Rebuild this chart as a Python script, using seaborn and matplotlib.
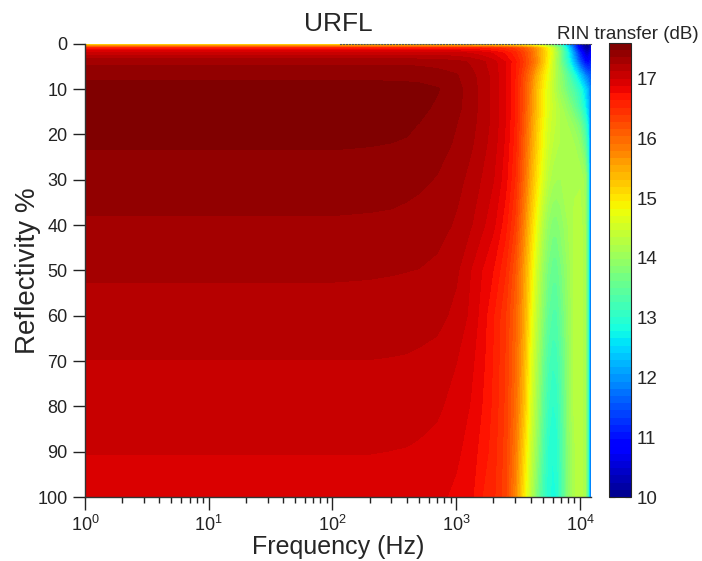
import numpy as np
import pandas as pd
import matplotlib
matplotlib.use("Agg")
import matplotlib.pyplot as plt
import seaborn as sns

# frequency columns (Hz) and reflectivity rows (%)
freq_hz = [1, 100, 200, 300, 400, 500, 700, 1000, 1300, 1600, 2000, 2500, 3000, 3500,
           4000, 4500, 5000, 5500, 6000, 6500, 7000, 8000, 9000, 10000, 11000, 11600,
           12000, 12300]
reflectivity = [0, 1, 2, 4, 7, 10, 14, 18, 22, 30, 40, 50, 60, 70, 80, 90, 100]

# RIN transfer (dB), one list per reflectivity row
rin_r0 = [14.7, 14.7, 14.7, 14.7, 14.7, 14.7, 14.7, 14.7, 14.7, 14.68, 14.65, 14.6, 14.5, 14.4,
          14.3, 14.15, 14.0, 13.8, 13.5, 13.2, 12.85, 12.1, 11.3, 10.5, 10.05, 10.0, 10.2, 10.5]
rin_r1 = [16.7, 16.7, 16.7, 16.7, 16.7, 16.7, 16.7, 16.69, 16.67, 16.64, 16.58, 16.48, 16.35, 16.15,
          15.9, 15.6, 15.25, 14.9, 14.5, 14.05, 13.6, 12.6, 11.6, 10.7, 10.2, 10.1, 10.3, 10.6]
rin_r2 = [17.05, 17.05, 17.05, 17.05, 17.05, 17.05, 17.04, 17.02, 16.98, 16.93, 16.85, 16.72, 16.55, 16.3,
          16.0, 15.65, 15.3, 14.95, 14.6, 14.15, 13.7, 12.8, 11.9, 11.1, 10.5, 10.4, 10.6, 10.8]
rin_r4 = [17.33, 17.33, 17.33, 17.33, 17.33, 17.325, 17.31, 17.28, 17.22, 17.15, 17.04, 16.87, 16.66, 16.38,
          16.05, 15.7, 15.3, 14.9, 14.5, 14.1, 13.7, 12.95, 12.2, 11.5, 11.0, 10.9, 11.0, 11.1]
rin_r7 = [17.44, 17.44, 17.44, 17.44, 17.435, 17.43, 17.41, 17.37, 17.28, 17.19, 17.07, 16.88, 16.63, 16.25,
          15.85, 15.4, 15.05, 14.75, 14.45, 14.15, 13.9, 13.4, 12.9, 12.4, 11.9, 11.7, 11.6, 11.6]
rin_r10 = [17.54, 17.54, 17.54, 17.535, 17.53, 17.52, 17.49, 17.4, 17.3, 17.2, 17.08, 16.88, 16.62, 16.2,
           15.75, 15.3, 14.95, 14.65, 14.4, 14.15, 13.95, 13.6, 13.3, 12.95, 12.5, 12.2, 11.9, 11.8]
rin_r14 = [17.57, 17.57, 17.565, 17.56, 17.55, 17.51, 17.46, 17.39, 17.3, 17.2, 17.08, 16.88, 16.62, 16.2,
           15.72, 15.3, 14.95, 14.65, 14.45, 14.3, 14.15, 13.9, 13.6, 13.25, 12.75, 12.4, 11.9, 11.8]
rin_r18 = [17.54, 17.54, 17.53, 17.515, 17.495, 17.475, 17.43, 17.36, 17.28, 17.19, 17.07, 16.87, 16.6, 16.15,
           15.65, 15.2, 14.85, 14.55, 14.4, 14.3, 14.2, 14.1, 13.95, 13.7, 13.2, 12.7, 11.9, 11.8]
rin_r22 = [17.49, 17.49, 17.485, 17.478, 17.47, 17.455, 17.41, 17.34, 17.26, 17.17, 17.05, 16.85, 16.57, 16.1,
           15.6, 15.15, 14.8, 14.5, 14.35, 14.25, 14.2, 14.15, 14.1, 13.95, 13.5, 12.9, 11.9, 11.8]
rin_r30 = [17.43, 17.43, 17.42, 17.41, 17.395, 17.38, 17.35, 17.28, 17.2, 17.11, 17.0, 16.8, 16.5, 16.0,
           15.45, 15.0, 14.6, 14.3, 14.15, 14.1, 14.1, 14.15, 14.2, 14.2, 14.05, 13.4, 11.9, 11.8]
rin_r40 = [17.34, 17.34, 17.335, 17.33, 17.32, 17.31, 17.285, 17.22, 17.13, 17.03, 16.9, 16.68, 16.35, 15.8,
           15.2, 14.7, 14.25, 13.95, 13.8, 13.8, 13.9, 14.1, 14.25, 14.3, 14.1, 13.3, 11.9, 11.8]
rin_r50 = [17.255, 17.255, 17.25, 17.245, 17.24, 17.235, 17.21, 17.14, 17.0, 16.88, 16.75, 16.52, 16.15, 15.6,
           15.0, 14.45, 14.0, 13.7, 13.55, 13.55, 13.7, 14.0, 14.25, 14.32, 14.1, 13.2, 11.9, 11.8]
rin_r60 = [17.19, 17.19, 17.19, 17.185, 17.18, 17.17, 17.155, 17.08, 16.97, 16.83, 16.64, 16.4, 16.05, 15.55,
           14.85, 14.3, 13.85, 13.5, 13.35, 13.35, 13.55, 13.95, 14.25, 14.32, 14.1, 13.2, 11.9, 11.8]
rin_r70 = [17.115, 17.115, 17.115, 17.11, 17.105, 17.095, 17.07, 17.0, 16.91, 16.8, 16.62, 16.38, 16.0, 15.45,
           14.7, 14.15, 13.65, 13.3, 13.15, 13.2, 13.4, 13.9, 14.25, 14.32, 14.1, 13.2, 11.9, 11.8]
rin_r80 = [17.06, 17.06, 17.06, 17.055, 17.05, 17.04, 17.015, 16.95, 16.87, 16.76, 16.6, 16.36, 15.95, 15.35,
           14.6, 14.05, 13.5, 13.15, 13.0, 13.05, 13.3, 13.9, 14.25, 14.32, 14.1, 13.2, 11.9, 11.8]
rin_r90 = [17.0, 17.0, 17.0, 16.995, 16.99, 16.98, 16.96, 16.9, 16.82, 16.71, 16.57, 16.33, 15.85, 15.15,
           14.45, 13.9, 13.35, 13.0, 12.9, 12.95, 13.25, 13.85, 14.2, 14.3, 14.1, 13.2, 11.9, 11.8]
rin_r100 = [16.94, 16.94, 16.94, 16.935, 16.93, 16.92, 16.9, 16.85, 16.79, 16.64, 16.54, 16.3, 15.75, 15.0,
            14.3, 13.7, 13.2, 12.95, 12.85, 12.9, 13.2, 13.85, 14.2, 14.3, 14.1, 13.2, 11.9, 11.8]

cbar_ticks = [10, 11, 12, 13, 14, 15, 16, 17]
y_ticks = [0, 10, 20, 30, 40, 50, 60, 70, 80, 90, 100]

rin = pd.DataFrame([rin_r0, rin_r1, rin_r2, rin_r4, rin_r7, rin_r10, rin_r14, rin_r18, rin_r22,
                    rin_r30, rin_r40, rin_r50, rin_r60, rin_r70, rin_r80, rin_r90, rin_r100],
                   index=reflectivity, columns=freq_hz)

sns.set_style("ticks")
plt.rcParams['font.family'] = ['Liberation Sans', 'DejaVu Sans']
plt.rcParams['mathtext.fontset'] = 'custom'
plt.rcParams['mathtext.rm'] = 'Liberation Sans'
plt.rcParams['mathtext.it'] = 'Liberation Sans:italic'

fig = plt.figure(figsize=(7.02, 5.61), dpi=100)
ax = fig.add_axes([0.121, 0.114, 0.721, 0.808])
cax = fig.add_axes([0.8675, 0.114, 0.032, 0.81])

levels = np.linspace(10, 17.6, 64)
cs = ax.contourf(rin.columns, rin.index, rin.values, levels=levels, cmap='jet',
                 vmin=9.94, vmax=17.54)

ax.set_xscale('log')
ax.set_xlim(1, 12300)
ax.set_ylim(100, 0)
ax.set_yticks(y_ticks)
ax.tick_params(which='major', direction='out', length=9, width=1, labelsize=13, colors='#222222')
ax.tick_params(which='minor', direction='out', length=4, width=1, colors='#222222')
for s in ['left', 'bottom']:
    ax.spines[s].set_color('#333333')
    ax.spines[s].set_linewidth(1)
sns.despine(ax=ax)
ax.spines['top'].set_visible(True)
ax.spines['top'].set_linestyle(':')
ax.spines['top'].set_color('#555555')
ax.spines['top'].set_linewidth(0.8)
ax.spines['top'].set_bounds(115, 12300)

ax.set_title('URFL', fontsize=19, pad=9)
ax.set_xlabel('Frequency (Hz)', fontsize=18, labelpad=0)
ax.set_ylabel('Reflectivity %', fontsize=20, labelpad=-3)

cb = fig.colorbar(cs, cax=cax, ticks=cbar_ticks)
cb.ax.tick_params(direction='in', length=4, labelsize=13.5, right=True, left=True)
cb.outline.set_linewidth(0.8)
cax.text(0.86, 1.007, 'RIN transfer (dB)', transform=cax.transAxes, ha='center',
         va='baseline', fontsize=13.5)

fig.savefig('out.png', dpi=100)
